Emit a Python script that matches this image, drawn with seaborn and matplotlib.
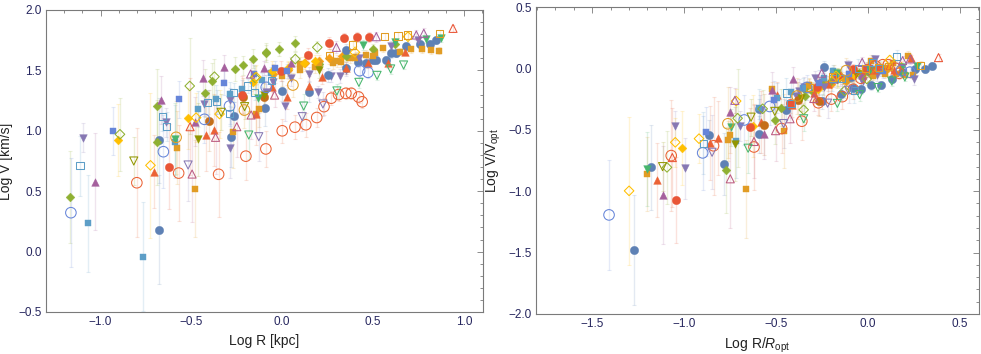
import numpy as np
import pandas as pd
import matplotlib
matplotlib.use("Agg")
import matplotlib.pyplot as plt
import seaborn as sns
from matplotlib.ticker import MultipleLocator, FuncFormatter

# ---------------- data ----------------
# each galaxy: log R [kpc], log V [km/s], error on log V
gal01_x = [-0.676, -0.268, 0.0, 0.147, 0.353, 0.50, 0.60]
gal01_y = [0.18, 1.12, 1.33, 1.32, 1.669, 1.59, 1.64]
gal01_e = [0.45, 0.12, 0.08, 0.08, 0.05, 0.04, 0.04]

gal02_x = [-0.68, -0.283, -0.092, 0.252, 0.353, 0.417, 0.463, 0.518, 0.573, 0.628, 0.683, 0.757, 0.812, 0.849]
gal02_y = [0.92, 0.95, 1.19, 1.46, 1.52, 1.57, 1.56, 1.59, 1.59, 1.64, 1.70, 1.72, 1.72, 1.75]
gal02_e = [0.35, 0.25, 0.15, 0.06, 0.05, 0.04, 0.04, 0.04, 0.03, 0.03, 0.03, 0.03, 0.03, 0.03]

gal03_x = [-0.478, -0.272, 0.0, 0.2, 0.4]
gal03_y = [0.52, 0.99, 1.45, 1.56, 1.60]
gal03_e = [0.40, 0.30, 0.08, 0.05, 0.04]

gal04_x = [-0.58, -0.143, -0.129, 0.10, 0.30, 0.50, 0.646, 0.711, 0.771, 0.821, 0.863]
gal04_y = [0.86, 1.14, 1.18, 1.55, 1.58, 1.62, 1.655, 1.674, 1.674, 1.669, 1.663]
gal04_e = [0.30, 0.15, 0.15, 0.06, 0.05, 0.04, 0.03, 0.03, 0.03, 0.03, 0.03]

gal05_x = [-0.689, -0.424, -0.389, -0.261, -0.215, -0.163, -0.088, -0.088, -0.015, 0.072]
gal05_y = [0.905, 1.313, 1.412, 1.509, 1.542, 1.597, 1.641, 1.655, 1.677, 1.724]
gal05_e = [0.35, 0.20, 0.15, 0.10, 0.08, 0.08, 0.07, 0.07, 0.06, 0.06]

gal06_x = [-1.166, -0.691]
gal06_y = [0.449, 1.208]
gal06_e = [0.38, 0.30]

gal07_x = [-0.707, -0.419, -0.373, -0.143, -0.055, 0.026, 0.147, 0.22, 0.35, 0.47, 0.582, 0.674]
gal07_y = [0.662, 0.968, 1.007, 1.136, 1.36, 1.277, 1.371, 1.448, 1.52, 1.56, 1.558, 1.655]
gal07_e = [0.30, 0.30, 0.30, 0.25, 0.10, 0.10, 0.08, 0.06, 0.05, 0.04, 0.04, 0.03]

gal08_x = [-1.098, -0.639, -0.428, -0.29, -0.088, 0.197]
gal08_y = [0.943, 1.07, 1.222, 1.255, 1.324, 1.324]
gal08_e = [0.12, 0.12, 0.10, 0.08, 0.06, 0.05]

gal09_x = [-0.285, 0.013, 0.316, 0.42, 0.60, 0.75]
gal09_y = [0.86, 1.205, 1.454, 1.60, 1.70, 1.75]
gal09_e = [0.25, 0.12, 0.06, 0.05, 0.04, 0.03]

gal10_x = [-0.404, -0.217, -0.101]
gal10_y = [1.084, 1.283, 1.277]
gal10_e = [0.25, 0.15, 0.12]

gal11_x = [-1.069, -0.764]
gal11_y = [0.234, -0.042]
gal11_e = [0.40, 0.45]

gal12_x = [-0.588, -0.463, -0.367, -0.287, -0.222, -0.112, -0.061]
gal12_y = [0.91, 1.18, 1.26, 1.305, 1.343, 1.42, 1.481]
gal12_e = [0.30, 0.15, 0.12, 0.10, 0.08, 0.06, 0.05]

gal13_x = [-0.902, -0.518, -0.162, -0.055, 0.031, 0.118, 0.178]
gal13_y = [0.924, 1.103, 1.407, 1.498, 1.517, 1.564, 1.578]
gal13_e = [0.30, 0.25, 0.10, 0.08, 0.06, 0.05, 0.05]

gal14_x = [-1.03, -0.667, -0.481, -0.437, -0.323, -0.10, 0.05]
gal14_y = [0.579, 1.255, 1.076, 1.434, 1.525, 1.52, 1.56]
gal14_e = [0.40, 0.20, 0.20, 0.15, 0.10, 0.06, 0.05]

gal15_x = [-0.463, -0.10, 0.20]
gal15_y = [0.929, 1.30, 1.50]
gal15_e = [0.30, 0.10, 0.06]

gal16_x = [-0.621, -0.22, -0.006, 0.141, 0.257, 0.34, 0.413, 0.478]
gal16_y = [0.703, 1.30, 1.495, 1.627, 1.724, 1.771, 1.779, 1.779]
gal16_e = [0.35, 0.15, 0.08, 0.06, 0.05, 0.04, 0.04, 0.04]

gal17_x = [-0.933, -0.566, -0.32, -0.158, -0.042, 0.026]
gal17_y = [1.0, 1.26, 1.398, 1.467, 1.517, 1.495]
gal17_e = [0.20, 0.15, 0.10, 0.08, 0.06, 0.06]

gal18_x = [-0.588, -0.134, 0.444, 0.619, 0.793, 0.876]
gal18_y = [0.93, 1.27, 1.71, 1.738, 1.757, 1.765]
gal18_e = [0.30, 0.15, 0.04, 0.03, 0.03, 0.03]

gal19_x = [-0.8, -0.57, -0.35, -0.2, -0.09, 0.0, 0.07, 0.13, 0.19, 0.23, 0.27, 0.31, 0.35, 0.38, 0.42, 0.44]
gal19_y = [0.57, 0.65, 0.64, 0.79, 0.85, 1.0, 1.03, 1.05, 1.11, 1.2, 1.27, 1.30, 1.31, 1.31, 1.28, 1.24]
gal19_e = [0.45, 0.40, 0.35, 0.20, 0.15, 0.10, 0.10, 0.10, 0.08, 0.07, 0.06, 0.05, 0.05, 0.05, 0.05, 0.05]

gal20_x = [-1.163, -0.654, -0.428, -0.29, -0.088, 0.426, 0.472]
gal20_y = [0.322, 0.827, 1.095, 1.205, 1.36, 1.498, 1.484]
gal20_e = [0.45, 0.30, 0.20, 0.15, 0.10, 0.05, 0.05]

gal21_x = [-1.113, -0.661, -0.635, -0.41, -0.36, -0.29, -0.268, -0.191, -0.152, -0.061]
gal21_y = [0.711, 1.12, 1.034, 1.235, 1.24, 1.14, 1.318, 1.371, 1.318, 1.42]
gal21_e = [0.25, 0.12, 0.12, 0.10, 0.10, 0.10, 0.08, 0.06, 0.06, 0.05]

gal22_x = [-0.893, -0.509, -0.373, -0.15, 0.072, 0.193]
gal22_y = [0.971, 1.371, 1.448, 1.44, 1.594, 1.691]
gal22_e = [0.30, 0.40, 0.15, 0.10, 0.06, 0.05]

gal23_x = [-0.725, -0.474, -0.345, -0.143, 0.40, 0.692]
gal23_y = [0.714, 1.109, 1.139, 1.445, 1.65, 1.779]
gal23_e = [0.60, 0.20, 0.20, 0.10, 0.05, 0.04]

gal24_x = [-0.496, -0.367, -0.25, -0.171, -0.042]
gal24_y = [0.642, 0.946, 1.034, 1.131, 1.296]
gal24_e = [0.40, 0.30, 0.25, 0.20, 0.10]

gal25_x = [-0.184, 0.118, 0.301, 0.422, 0.522, 0.597, 0.668]
gal25_y = [0.965, 1.205, 1.33, 1.401, 1.459, 1.512, 1.545]
gal25_e = [0.20, 0.10, 0.06, 0.05, 0.04, 0.04, 0.03]

gal26_x = [-0.817, -0.336, -0.207]
gal26_y = [0.75, 1.153, 1.2]
gal26_e = [0.20, 0.15, 0.10]

gal27_x = [-0.518, -0.129, 0.11, 0.224]
gal27_y = [0.717, 0.951, 1.117, 1.222]
gal27_e = [0.30, 0.20, 0.12, 0.10]

gal28_x = [-0.174, 0.298, 0.518, 0.738, 0.779]
gal28_y = [1.47, 1.691, 1.779, 1.793, 1.807]
gal28_e = [0.10, 0.05, 0.04, 0.04, 0.04]

gal29_x = [-0.507, 0.94]
gal29_y = [1.034, 1.848]
gal29_e = [0.40, 0.03]

gal30_x = [0.261, 0.389, 0.564, 0.637, 0.692, 0.867]
gal30_y = [1.627, 1.71, 1.779, 1.785, 1.793, 1.807]
gal30_e = [0.05, 0.04, 0.03, 0.03, 0.03, 0.03]

gal31_x = [-0.584, -0.208, 0.059]
gal31_y = [0.946, 1.172, 1.379]
gal31_e = [0.30, 0.15, 0.10]

gal32_x = [0.10, 0.18, 0.279, 0.325, 0.371, 0.408, 0.463, 0.509, 0.554]
gal32_y = [1.50, 1.53, 1.559, 1.572, 1.60, 1.613, 1.627, 1.642, 1.683]
gal32_e = [0.06, 0.05, 0.05, 0.04, 0.04, 0.04, 0.04, 0.03, 0.03]

gal33_x = [-0.05, 0.03, 0.123, 0.20, 0.26, 0.33]
gal33_y = [1.47, 1.50, 1.559, 1.58, 1.60, 1.62]
gal33_e = [0.08, 0.07, 0.06, 0.05, 0.05, 0.04]

gal34_x = [-0.05, 0.05, 0.15, 0.27, 0.35]
gal34_y = [1.40, 1.44, 1.47, 1.45, 1.50]
gal34_e = [0.08, 0.07, 0.06, 0.05, 0.05]

gal35_x = [0.20, 0.35, 0.50, 0.62]
gal35_y = [1.55, 1.62, 1.68, 1.72]
gal35_e = [0.05, 0.04, 0.04, 0.03]

# per-galaxy optical radius / velocity (log), None = not in right panel
log_ropt = [0.594, 0.5, 0.184, 0.621, 0.082, None, 0.44, -0.05, 0.71, 0.163,
            None, 0.13, 0.108, 0.085, 0.263, 0.421, -0.054, 0.611, 0.27, 0.245,
            -0.216, 0.2, 0.574, 0.253, 0.468, 0.3, 0.33, 0.55, 0.557, 0.58, 0.178,
            0.42, 0.15, 0.30, 0.55]
log_vopt = [1.66, 1.727, 1.502, 1.719, 1.731, None, 1.573, 1.41, 1.675, 1.543,
            None, 1.5, 1.573, 1.61, 1.543, 1.776, 1.514, 1.748, 1.28, 1.515,
            1.32, 1.777, 1.711, 1.541, 1.615, 1.55, 1.4, 1.73, 1.76, 1.78, 1.397,
            1.64, 1.60, 1.55, 1.72]

# ---------------- styles ----------------
colors = ["#5E81B5", "#5E81B5", "#E19C24", "#E19C24", "#8FB032", "#8FB032", "#EB6235",
          "#8778B3", "#8778B3", "#C56E1A", "#5D9EC7", "#5D9EC7", "#FFBF00", "#A5609D",
          "#929600", "#E95536", "#6685D9", "#47B66D",
          "#EB6235", "#6685D9", "#5D9EC7", "#8FB032", "#FFBF00", "#BC5B80", "#47B66D",
          "#929600", "#8778B3", "#A5609D", "#E95536", "#E19C24", "#E19C24",
          "#E19C24", "#F89F13", "#8778B3", "#8FB032"]
markers = ["o", "o", "s", "s", "D", "D", "^", "v", "v", "o", "s", "s", "D", "^", "v", "o", "s", "v",
           "o", "o", "s", "D", "D", "^", "v", "v", "v", "^", "^", "s", "o",
           "s", "D", "v", "D"]
filled = [True] * 18 + [False] * 13 + [True] * 4
size_filled = {"o": 36, "s": 22, "D": 20, "^": 30, "v": 30}
size_open = {"o": 58, "s": 26, "D": 24, "^": 34, "v": 34}

gx = [gal01_x, gal02_x, gal03_x, gal04_x, gal05_x, gal06_x, gal07_x, gal08_x, gal09_x, gal10_x,
      gal11_x, gal12_x, gal13_x, gal14_x, gal15_x, gal16_x, gal17_x, gal18_x, gal19_x, gal20_x,
      gal21_x, gal22_x, gal23_x, gal24_x, gal25_x, gal26_x, gal27_x, gal28_x, gal29_x, gal30_x,
      gal31_x, gal32_x, gal33_x, gal34_x, gal35_x]
gy = [gal01_y, gal02_y, gal03_y, gal04_y, gal05_y, gal06_y, gal07_y, gal08_y, gal09_y, gal10_y,
      gal11_y, gal12_y, gal13_y, gal14_y, gal15_y, gal16_y, gal17_y, gal18_y, gal19_y, gal20_y,
      gal21_y, gal22_y, gal23_y, gal24_y, gal25_y, gal26_y, gal27_y, gal28_y, gal29_y, gal30_y,
      gal31_y, gal32_y, gal33_y, gal34_y, gal35_y]
ge = [gal01_e, gal02_e, gal03_e, gal04_e, gal05_e, gal06_e, gal07_e, gal08_e, gal09_e, gal10_e,
      gal11_e, gal12_e, gal13_e, gal14_e, gal15_e, gal16_e, gal17_e, gal18_e, gal19_e, gal20_e,
      gal21_e, gal22_e, gal23_e, gal24_e, gal25_e, gal26_e, gal27_e, gal28_e, gal29_e, gal30_e,
      gal31_e, gal32_e, gal33_e, gal34_e, gal35_e]

rows = []
for i in range(len(gx)):
    for x, y, e in zip(gx[i], gy[i], ge[i]):
        rx = np.nan if log_ropt[i] is None else x - log_ropt[i]
        ry = np.nan if log_vopt[i] is None else y - log_vopt[i]
        rows.append(dict(gal=i, x=x, y=y, e=e, rx=rx, ry=ry))
df = pd.DataFrame(rows)

# drawing order: filled fillers first, then the rest as listed
order = [31, 32, 33, 34] + list(range(31))

# ---------------- figure ----------------
sns.set_theme(style="white")
plt.rcParams["font.family"] = ["Liberation Sans", "DejaVu Sans"]
plt.rcParams["mathtext.fontset"] = "custom"
plt.rcParams["mathtext.rm"] = "Liberation Sans"
plt.rcParams["mathtext.it"] = "Liberation Sans:italic"

W, H = 981, 354
fig = plt.figure(figsize=(W / 100, H / 100), dpi=100)
ax1 = fig.add_axes([46 / W, (H - 312) / H, 437 / W, 302 / H])
ax2 = fig.add_axes([536 / W, (H - 314) / H, 443 / W, 307 / H])

FRAME = "#7a7a7a"
NAVY = "#26265e"


def draw(ax, xc, yc):
    for k, i in enumerate(order):
        sub = df[(df.gal == i)].dropna(subset=[xc, yc])
        if sub.empty:
            continue
        c = colors[i]
        m = markers[i]
        ax.errorbar(sub[xc], sub[yc], yerr=sub["e"], fmt="none", ecolor=c, alpha=0.17,
                    elinewidth=1.0, capsize=1.6, capthick=0.8, zorder=1)
        if filled[i]:
            sns.scatterplot(data=sub, x=xc, y=yc, ax=ax, marker=m, color=c,
                            s=size_filled[m], edgecolor=c, linewidth=0.3,
                            legend=False, zorder=2 + k * 0.01)
        else:
            sns.scatterplot(data=sub, x=xc, y=yc, ax=ax, marker=m, color=c,
                            s=size_open[m], facecolor="none", edgecolor=c, linewidth=0.75,
                            legend=False, zorder=2 + k * 0.01)


draw(ax1, "x", "y")
draw(ax2, "rx", "ry")

fmt = FuncFormatter(lambda v, p: f"{v:.1f}".replace("-", "\u2212"))
for ax, xl, yl in [(ax1, (-1.3, 1.105), (-0.5, 2.0)), (ax2, (-1.805, 0.603), (-2.0, 0.5))]:
    ax.set_xlim(*xl)
    ax.set_ylim(*yl)
    ax.xaxis.set_major_locator(MultipleLocator(0.5))
    ax.xaxis.set_minor_locator(MultipleLocator(0.1))
    ax.yaxis.set_major_locator(MultipleLocator(0.5))
    ax.yaxis.set_minor_locator(MultipleLocator(0.1))
    ax.xaxis.set_major_formatter(fmt)
    ax.yaxis.set_major_formatter(fmt)
    ax.tick_params(which="both", direction="in", top=True, right=True, color=FRAME,
                   labelcolor=NAVY, labelsize=8.5, width=0.6)
    ax.tick_params(which="major", length=4.5, pad=3)
    ax.tick_params(which="minor", length=2.5)
    for s in ax.spines.values():
        s.set_color(FRAME)
        s.set_linewidth(0.8)

ax1.set_xlabel("Log R [kpc]", fontsize=10, color="#222222", labelpad=4)
ax1.set_ylabel("Log V [km/s]", fontsize=10, color="#222222", labelpad=4)
ax2.set_xlabel(r"Log R/$R_{\rm opt}$", fontsize=10, color="#222222", labelpad=4)
ax2.set_ylabel(r"Log V/V$_{\rm opt}$", fontsize=10, color="#222222", labelpad=4)

fig.savefig("out.png", dpi=100)
